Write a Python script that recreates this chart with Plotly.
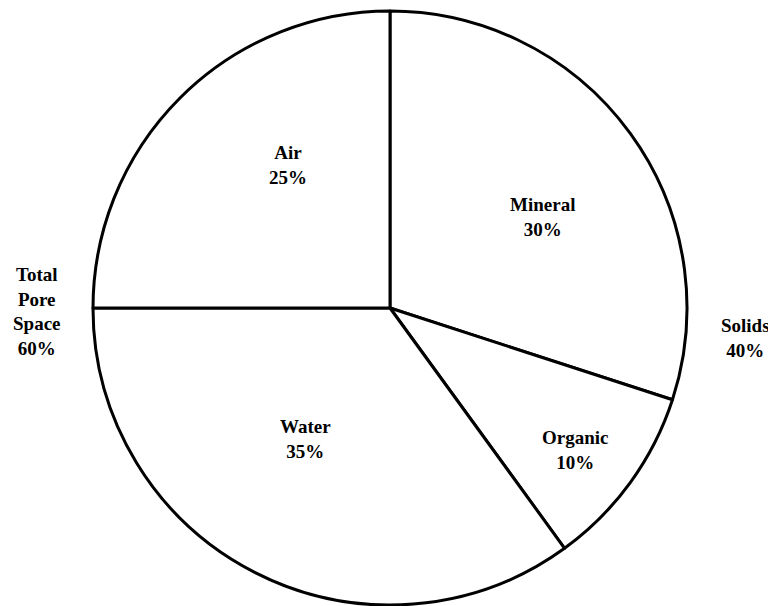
import plotly.graph_objects as go

# Data
labels = ["Mineral", "Organic", "Water", "Air"]
values = [30, 10, 35, 25]
groups = ["Solids", "Solids", "Total<br>Pore<br>Space", "Total<br>Pore<br>Space"]
group_names = ["Solids", "Total<br>Pore<br>Space"]

# page body adds an 8px offset; size figure to fit the window
OFF = 8
W, H = 768, 598
ML, MR, MT, MB = 0, 4, 3, 1
PW, PH = W - ML - MR, H - MT - MB

fig = go.Figure(go.Pie(
    labels=labels,
    values=values,
    sort=False,
    direction="clockwise",
    rotation=0,
    textinfo="none",
    hoverinfo="label+percent",
    marker=dict(colors=["white"] * len(labels), line=dict(color="black", width=3)),
    showlegend=False,
))

def px2paper(x, y):
    x -= OFF
    y -= OFF
    return (x - ML) / PW, 1 - (y - MT) / PH

font = dict(family="Liberation Serif, Times New Roman, serif", size=19, color="black", weight="bold")

# label text positions (window pixels)
slice_pos = {"Mineral": (542, 217), "Organic": (575, 450), "Water": (305, 439), "Air": (288, 165)}
group_pos = {"Solids": (745, 338), "Total<br>Pore<br>Space": (37, 311)}

annotations = []
for lab, val in zip(labels, values):
    x, y = px2paper(*slice_pos[lab])
    annotations.append(dict(x=x, y=y, xref="paper", yref="paper", text=f"{lab}<br>{val}%",
                            showarrow=False, xanchor="center", yanchor="middle", font=font, align="center"))
for g in group_names:
    tot = sum(v for v, gg in zip(values, groups) if gg == g)
    x, y = px2paper(*group_pos[g])
    annotations.append(dict(x=x, y=y, xref="paper", yref="paper", text=f"{g}<br>{tot}%",
                            showarrow=False, xanchor="center", yanchor="middle", font=font, align="center"))

fig.update_layout(
    width=W, height=H,
    margin=dict(l=ML, r=MR, t=MT, b=MB),
    paper_bgcolor="white",
    plot_bgcolor="white",
    annotations=annotations,
)

fig.write_html("out.html")
